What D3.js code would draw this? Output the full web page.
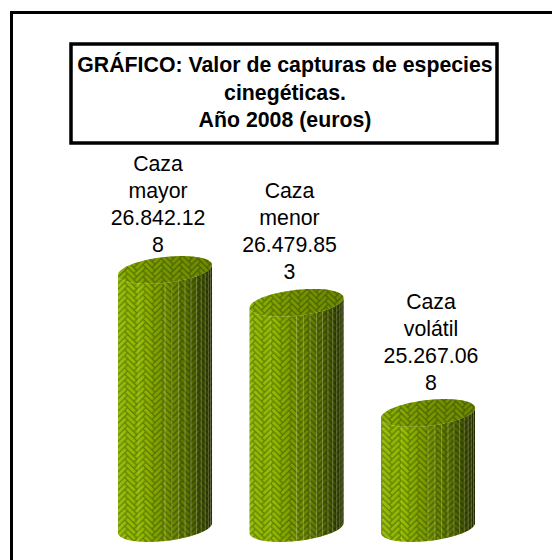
<!DOCTYPE html>
<html>
<head>
<meta charset="utf-8">
<script src="https://cdn.jsdelivr.net/npm/d3@7"></script>
<style>
html, body { margin: 0; padding: 0; background: #fff; overflow: hidden; }
svg { display: block; }
text { font-family: "Liberation Sans", Arial, sans-serif; fill: #000; }
</style>
</head>
<body>
<svg id="chart" width="552" height="560"></svg>
<script>
let categories = ['Caza mayor', 'Caza menor', 'Caza volátil']
let values = [26842128, 26479853, 25267068]
let labelLines = [
    ['Caza', 'mayor', '26.842.12', '8'],
    ['Caza', 'menor', '26.479.85', '3'],
    ['Caza', 'volátil', '25.267.06', '8']
]
let titleLines = ['GRÁFICO: Valor de capturas de especies', 'cinegéticas.', 'Año 2008 (euros)']
let yDomain = [24000000, 27000000]

let svg = d3.select('#chart')

let x = d3.scaleBand().domain(categories).range([118, 475]).paddingInner(0.285).paddingOuter(0)
let y = d3.scaleLinear().domain(yDomain).range([528, 255.6])

let rx = x.bandwidth() / 2
let ry = 13
let slope = 5

let defs = svg.append('defs')

// herringbone weave, horizontal and vertical bricks turned 45 degrees
let u = 4.3
let gap = 1.3
let weave = defs.append('pattern')
    .attr('id', 'weave')
    .attr('patternUnits', 'userSpaceOnUse')
    .attr('width', 6 * u).attr('height', 6 * u)
    .attr('patternTransform', 'rotate(45)')
weave.append('rect').attr('width', 6 * u).attr('height', 6 * u).attr('fill', '#647c00')
// the tile repeats along x every 6 units, so wrap the bricks
d3.range(-12, 18, 6).forEach((shift) => {
    d3.range(-6, 12).forEach((k) => {
        weave.append('rect')
            .attr('x', (k + shift) * u + gap / 2).attr('y', k * u + gap / 2)
            .attr('width', 3 * u - gap).attr('height', u - gap)
            .attr('fill', '#92bc00')
        weave.append('rect')
            .attr('x', (k + 3 + shift) * u + gap / 2).attr('y', (k - 2) * u + gap / 2)
            .attr('width', u - gap).attr('height', 3 * u - gap)
            .attr('fill', '#92bc00')
    })
})

let side = defs.append('linearGradient').attr('id', 'side')
let sideStops = [[0, '#ffffff', 0.06], [0.25, '#000000', 0], [0.5, '#000000', 0.2], [0.75, '#000000', 0.4], [1, '#000000', 0.72]]
sideStops.forEach((s) => {
    side.append('stop').attr('offset', s[0]).attr('stop-color', s[1]).attr('stop-opacity', s[2])
})

let lid = defs.append('linearGradient').attr('id', 'lid')
let lidStops = [[0, '#000000', 0.04], [0.5, '#000000', 0.2], [1, '#000000', 0.26]]
lidStops.forEach((s) => {
    lid.append('stop').attr('offset', s[0]).attr('stop-color', s[1]).attr('stop-opacity', s[2])
})

// point on the tilted rim of a cylinder, t in radians
let rim = (cx, cy, t) => {
    return [cx + rx * Math.cos(t), cy + ry * Math.sin(t) - slope * Math.cos(t)]
}

let line = d3.line()

let front = d3.range(0, 180.1, 6).map((a) => a * Math.PI / 180)
let whole = d3.range(0, 360, 6).map((a) => a * Math.PI / 180)

let centerX = (i) => x(categories[i]) + rx

let bodyPath = (d, i) => {
    let cx = centerX(i)
    let lower = front.map((t) => rim(cx, y(yDomain[0]), t))
    let upper = front.map((t) => rim(cx, y(d), t)).reverse()
    return line(lower.concat(upper)) + 'Z'
}

let topPath = (d, i) => {
    return line(whole.map((t) => rim(centerX(i), y(d), t))) + 'Z'
}

let bars = svg.append('g').selectAll('g')
    .data(values)
    .enter()
    .append('g')

bars.append('path').attr('d', bodyPath).attr('fill', 'url(#weave)')
bars.append('path').attr('d', bodyPath).attr('fill', 'url(#side)')

// facets of the shading, seen as pale vertical lines
let facetAngles = [-34].concat(d3.range(0, 78, 8.4))
bars.each(function (d, i) {
    d3.select(this).selectAll('path.facet')
        .data(facetAngles)
        .enter()
        .append('path')
        .attr('class', 'facet')
        .attr('d', (a) => {
            let t = (90 - a) * Math.PI / 180
            return line([rim(centerX(i), y(d), t), rim(centerX(i), y(yDomain[0]), t)])
        })
        .attr('fill', 'none')
        .attr('stroke', '#e8eed0')
        .attr('stroke-opacity', (a) => a < 0 ? 0.18 : 0.3)
        .attr('stroke-width', 1)
})

bars.append('path').attr('d', topPath).attr('fill', 'url(#weave)')
bars.append('path').attr('d', topPath).attr('fill', 'url(#lid)')

// frame, only top and left fall inside the picture
svg.append('path')
    .attr('d', 'M11.5,560V12.5H552')
    .attr('fill', 'none').attr('stroke', '#000').attr('stroke-width', 3)

svg.append('rect')
    .attr('x', 71).attr('y', 44).attr('width', 426).attr('height', 99)
    .attr('fill', '#fff').attr('stroke', '#000').attr('stroke-width', 3.5)

svg.append('g').selectAll('text')
    .data(titleLines)
    .enter()
    .append('text')
    .attr('x', 285)
    .attr('y', (d, i) => 72 + i * 27.5)
    .attr('text-anchor', 'middle')
    .attr('font-size', 21.3)
    .attr('font-weight', 'bold')
    .text((d) => d)

let lineH = 27
let labelShift = [-7, -7, 3]
let labelLift = [18, 24, 23]
let labels = svg.append('g').selectAll('g')
    .data(labelLines)
    .enter()
    .append('g')
labels.selectAll('text')
    .data((d, i) => d.map((t, j) => ({ t: t, j: j, n: d.length, i: i })))
    .enter()
    .append('text')
    .attr('x', (d) => centerX(d.i) + labelShift[d.i])
    .attr('y', (d) => y(values[d.i]) - labelLift[d.i] - (d.n - 1 - d.j) * lineH)
    .attr('text-anchor', 'middle')
    .attr('font-size', 21.3)
    .text((d) => d.t)
</script>
</body>
</html>
